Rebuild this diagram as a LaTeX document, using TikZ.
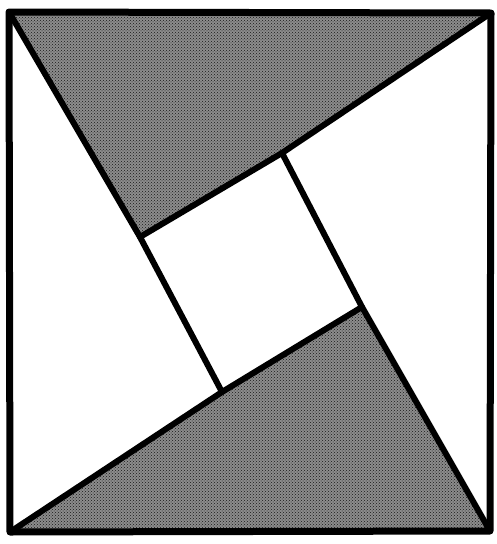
\documentclass[tikz,border=0pt]{standalone}
\usepackage{tikz}
\usetikzlibrary{patterns}
\begin{document}
\begin{tikzpicture}[x=1pt,y=-1pt]
   \tikzstyle{shade}=[fill=black!45, postaction={pattern=crosshatch dots, pattern color=black!90}];
   \tikzstyle{l}=[draw,line width=6pt,line join=round,line cap=round];
   \useasboundingbox (0,0) rectangle (497,544);
   % outer corners
   \coordinate (tl) at (9,12);
   \coordinate (tr) at (491,13);
   \coordinate (br) at (490,531);
   \coordinate (bl) at (10,532);
   % inner square
   \coordinate (a) at (140,237);
   \coordinate (b) at (282,153);
   \coordinate (c) at (362,307);
   \coordinate (d) at (222,392);
   \fill[shade] (tl) -- (tr) -- (b) -- (a) -- cycle;
   \fill[shade] (bl) -- (br) -- (c) -- (d) -- cycle;
   \draw[l] (tl) -- (a) -- (d);
   \draw[l] (tr) -- (b) -- (a);
   \draw[l] (br) -- (c) -- (b);
   \draw[l] (bl) -- (d) -- (c);
   \draw[l,line width=7pt] (tl) -- (tr) -- (br) -- (bl) -- cycle;
\end{tikzpicture}
\end{document}
